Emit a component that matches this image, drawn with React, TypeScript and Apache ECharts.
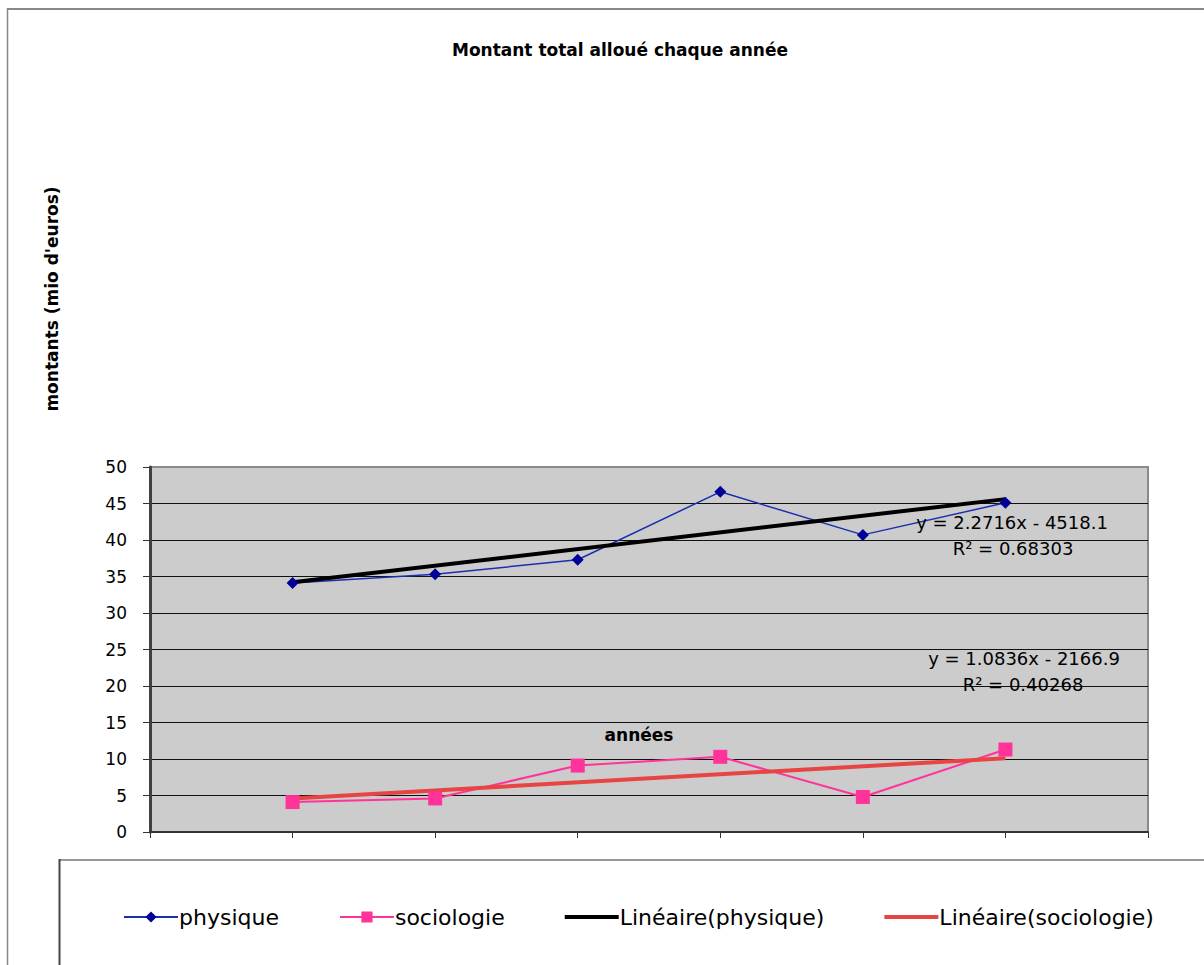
import React, { useEffect, useRef } from "react";
import * as echarts from "echarts";

const years = [2004, 2005, 2006, 2007, 2008, 2009];
const physique = [34.1, 35.3, 37.3, 46.6, 40.7, 45.1];
const sociologie = [4.1, 4.6, 9.1, 10.3, 4.8, 11.3];
const trendYears = [2004, 2009];
const trendPhysique = [34.2, 45.6];
const trendSociologie = [4.6, 10.1];
const seriesNames = ["physique", "sociologie", "Linéaire(physique)", "Linéaire(sociologie)"];
const titleText = "Montant total alloué chaque année";
const yName = "montants (mio d'euros)";
const xName = "années";
const eqPhysique = ["y = 2.2716x - 4518.1", "R² = 0.68303"];
const eqSociologie = ["y = 1.0836x - 2166.9", "R² = 0.40268"];

const FONT = "'DejaVu Sans', sans-serif";
const BAR_ICON = "path://M0,0 L52,0 L52,4 L0,4 Z";

export default function App() {
  const ref = useRef<HTMLDivElement>(null);
  useEffect(() => {
    if (!ref.current) return;
    const chart = echarts.init(ref.current, undefined, { renderer: "svg" });
    const pair = (xs: number[], ys: number[]) => xs.map((x, i) => [x, ys[i]]);
    const splitColors = Array.from({ length: 11 }, (_, i) => (i === 10 ? "#8a8a8a" : "#111"));
    const txt = (text: string, x: number, y: number, size: number, bold = false, extra: any = {}) => ({
      type: "text",
      x,
      y,
      z: 100,
      ...extra,
      style: {
        text,
        fontFamily: FONT,
        fontSize: size,
        fontWeight: bold ? "bold" : "normal",
        fill: "#000",
        align: "center",
        verticalAlign: "middle",
      },
    });
    chart.setOption({
      animation: false,
      backgroundColor: "#fff",
      title: {
        text: titleText,
        left: 615,
        top: 36,
        textAlign: "center",
        textStyle: { fontFamily: FONT, fontSize: 17, fontWeight: "bold", color: "#000" },
      },
      grid: {
        left: 150,
        top: 467,
        right: 56,
        bottom: 133,
        show: true,
        backgroundColor: "#cccccc",
        borderColor: "#8a8a8a",
        borderWidth: 2,
      },
      legend: {
        left: 118,
        top: 901,
        itemGap: 60,
        itemWidth: 54,
        itemHeight: 14,
        data: [
          { name: seriesNames[0] },
          { name: seriesNames[1] },
          { name: seriesNames[2], icon: BAR_ICON },
          { name: seriesNames[3], icon: BAR_ICON },
        ],
        textStyle: { fontFamily: FONT, fontSize: 22, color: "#000", padding: [0, 0, 0, -4] },
      },
      xAxis: {
        type: "value",
        min: 2003,
        max: 2010,
        interval: 1,
        axisLabel: { show: false },
        axisLine: { show: true, onZero: false, lineStyle: { color: "#333", width: 2 } },
        axisTick: { show: true, length: 6, lineStyle: { color: "#333", width: 1 } },
        splitLine: { show: false },
      },
      yAxis: {
        type: "value",
        min: 0,
        max: 50,
        interval: 5,
        axisLabel: { fontFamily: FONT, fontSize: 17, color: "#000", margin: 23 },
        axisLine: { show: true, lineStyle: { color: "#404040", width: 3 } },
        axisTick: { show: true, length: 7, lineStyle: { color: "#333", width: 1 } },
        splitLine: { show: true, lineStyle: { color: splitColors, width: 1 } },
      },
      series: [
        {
          name: seriesNames[0],
          type: "line",
          data: pair(years, physique),
          color: "#000099",
          lineStyle: { width: 1.5, color: "#1a2fb0" },
          symbol: "diamond",
          symbolSize: 12,
          itemStyle: { color: "#000099" },
        },
        {
          name: seriesNames[1],
          type: "line",
          data: pair(years, sociologie),
          color: "#ff3399",
          lineStyle: { width: 2, color: "#ff3399" },
          symbol: "rect",
          symbolSize: 14,
          itemStyle: { color: "#ff3399" },
        },
        {
          name: seriesNames[2],
          type: "line",
          data: pair(trendYears, trendPhysique),
          color: "#000",
          lineStyle: { width: 4, color: "#000" },
          itemStyle: { color: "#000" },
          symbol: "none",
        },
        {
          name: seriesNames[3],
          type: "line",
          data: pair(trendYears, trendSociologie),
          color: "#e84444",
          lineStyle: { width: 4, color: "#e84444" },
          itemStyle: { color: "#e84444" },
          symbol: "none",
        },
      ],
      graphic: [
        { type: "line", shape: { x1: 7, y1: 9, x2: 1204, y2: 9 }, style: { stroke: "#888", lineWidth: 2 } },
        { type: "line", shape: { x1: 7.5, y1: 8, x2: 7.5, y2: 965 }, style: { stroke: "#888", lineWidth: 1.5 } },
        { type: "line", shape: { x1: 59, y1: 860, x2: 1204, y2: 860 }, style: { stroke: "#999", lineWidth: 2 } },
        { type: "line", shape: { x1: 59.5, y1: 859, x2: 59.5, y2: 965 }, style: { stroke: "#444", lineWidth: 2 } },
        txt(yName, 52, 299, 17, true, { rotation: Math.PI / 2 }),
        txt(xName, 639, 735, 17, true),
        txt(eqPhysique[0], 1012, 522, 18),
        txt(eqPhysique[1], 1013, 548, 18),
        txt(eqSociologie[0], 1024, 658, 18),
        txt(eqSociologie[1], 1023, 684, 18),
      ],
    });
    return () => chart.dispose();
  }, []);
  return <div ref={ref} style={{ position: "fixed", left: 0, top: 0, width: 1204, height: 965 }} />;
}
